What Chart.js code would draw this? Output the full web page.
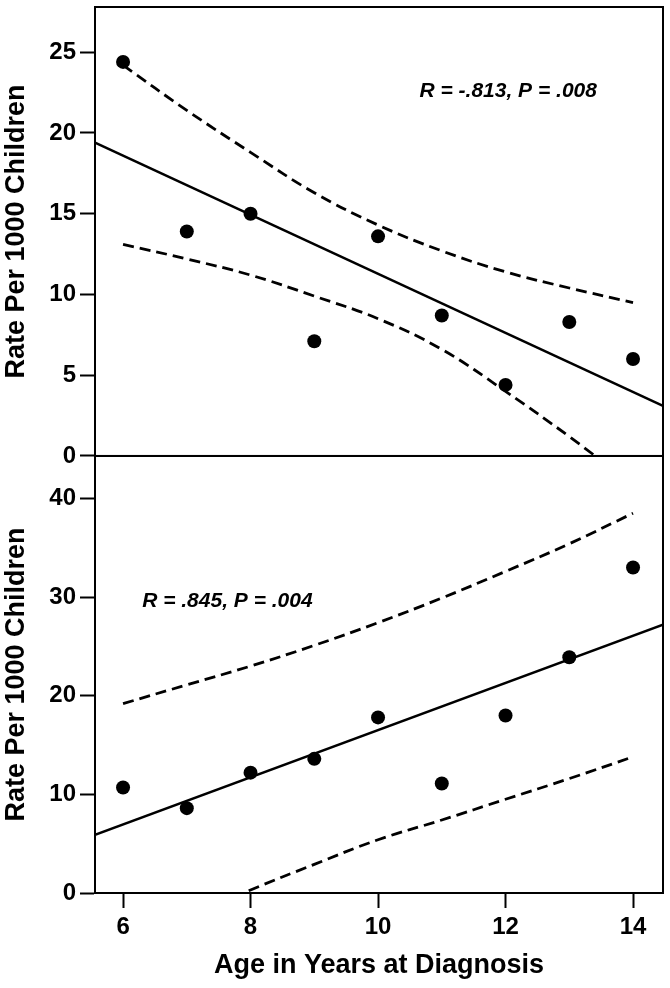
<!DOCTYPE html>
<html>
<head>
<meta charset="utf-8">
<script src="https://cdn.jsdelivr.net/npm/chart.js@4.4.1/dist/chart.umd.min.js"></script>
<style>
  html, body { margin: 0; padding: 0; background: #fff; }
  #wrap { position: relative; width: 670px; height: 988px; }
</style>
</head>
<body>
<div id="wrap"><canvas id="myChart"></canvas></div>
<script>
// age in years at diagnosis
var ages = [6, 7, 8, 9, 10, 11, 12, 13, 14];

// top panel
var rateTop = [24.4, 13.9, 15.0, 7.1, 13.6, 8.7, 4.4, 8.3, 6.0];
var fitTopAges = [5.56, 14.47];
var fitTop = [19.4, 3.1];
var upperTop = [24.2, 21.4, 18.8, 16.3, 14.3, 12.7, 11.4, 10.4, 9.5];
var lowerTop = [13.1, 12.2, 11.2, 9.9, 8.5, 6.6, 4.0, 1.2, -1.8];

// bottom panel
var rateBottom = [10.7, 8.6, 12.2, 13.6, 17.8, 11.1, 18.0, 23.9, 33.0];
var fitBottomAges = [5.56, 14.47];
var fitBottom = [5.9, 27.2];
var upperBottom = [19.2, 21.1, 23.0, 25.1, 27.4, 29.9, 32.6, 35.4, 38.5];
var lowerBottom = [null, -2.6, 0.3, 2.9, 5.4, 7.4, 9.5, 11.6, 13.8];

var xTicks = [6, 8, 10, 12, 14];
var yTicksTop = [0, 5, 10, 15, 20, 25];
var yTicksBottom = [0, 10, 20, 30, 40];

function pts(xs, ys) {
  return xs.map(function(x, i) { return { x: x, y: ys[i] }; });
}

var FONT = "'Liberation Sans', Arial, sans-serif";

function dots(data, axis) {
  return { data: data, yAxisID: axis, showLine: false, pointRadius: 7, pointHoverRadius: 7,
           backgroundColor: '#000', borderColor: '#000', borderWidth: 0 };
}
function fitLine(data, axis) {
  return { data: data, yAxisID: axis, showLine: true, pointRadius: 0, borderColor: '#000',
           borderWidth: 2.5, backgroundColor: '#000' };
}
function ciLine(data, axis) {
  return { data: data, yAxisID: axis, showLine: true, pointRadius: 0, borderColor: '#000',
           borderWidth: 2.8, borderDash: [11, 6], tension: 0.4,
           backgroundColor: '#000' };
}

// keep each panel's lines inside its own box
var panelClip = {
  id: 'panelClip',
  beforeDatasetDraw: function(chart, args) {
    var ys = chart.scales[args.meta.yAxisID];
    var ctx = chart.ctx;
    ctx.save();
    ctx.beginPath();
    ctx.rect(chart.chartArea.left, ys.top, chart.chartArea.right - chart.chartArea.left, ys.bottom - ys.top);
    ctx.clip();
  },
  afterDatasetDraw: function(chart) {
    chart.ctx.restore();
  }
};

// frame around each panel + the R/P notes
var frames = {
  id: 'frames',
  afterDraw: function(chart, args, opts) {
    var ctx = chart.ctx;
    var a = chart.chartArea;
    ctx.save();
    ctx.strokeStyle = '#000';
    ctx.lineWidth = 2;
    ['yTop', 'yBottom'].forEach(function(id) {
      var s = chart.scales[id];
      ctx.strokeRect(a.left, s.top, a.right - a.left, s.bottom - s.top);
    });
    ctx.fillStyle = '#000';
    ctx.font = 'italic bold 21px ' + FONT;
    ctx.textBaseline = 'middle';
    ctx.textAlign = 'left';
    opts.notes.forEach(function(n) {
      ctx.fillText(n.text, chart.scales.x.getPixelForValue(n.x), chart.scales[n.axis].getPixelForValue(n.y));
    });
    ctx.restore();
  }
};

function yAxis(ticksArr, max, weight) {
  return {
    type: 'linear',
    position: 'left',
    stack: 'panels',
    stackWeight: weight,
    min: 0,
    max: max,
    afterBuildTicks: function(axis) {
      axis.ticks = ticksArr.map(function(v) { return { value: v }; });
    },
    afterFit: function(axis) {
      axis.width = 95;
      axis.paddingTop = 0;
      axis.paddingBottom = 0;
    },
    border: { display: true, color: '#000', width: 2 },
    grid: { display: true, drawOnChartArea: false, drawTicks: true, tickLength: 15, tickWidth: 2, tickColor: '#000' },
    ticks: { color: '#000', padding: 4, font: { family: FONT, size: 24, weight: 'bold' } },
    title: { display: true, text: 'Rate Per 1000 Children', color: '#000', padding: 0,
             font: { family: FONT, size: 27, weight: 'bold' } }
  };
}

var ctx = document.getElementById('myChart').getContext('2d');
var chart = new Chart(ctx, {
  type: 'scatter',
  data: {
    datasets: [
      dots(pts(ages, rateTop), 'yTop'),
      fitLine(pts(fitTopAges, fitTop), 'yTop'),
      ciLine(pts(ages, upperTop), 'yTop'),
      ciLine(pts(ages, lowerTop), 'yTop'),
      dots(pts(ages, rateBottom), 'yBottom'),
      fitLine(pts(fitBottomAges, fitBottom), 'yBottom'),
      ciLine(pts(ages, upperBottom), 'yBottom'),
      ciLine(pts(ages, lowerBottom), 'yBottom')
    ]
  },
  options: {
    responsive: true,
    maintainAspectRatio: false,
    animation: false,
    layout: { padding: { left: 0, right: 3, top: 3, bottom: 0 } },
    plugins: {
      legend: { display: false },
      tooltip: { enabled: false },
      frames: {
        notes: [
          { text: 'R = -.813, P = .008', axis: 'yTop', x: 10.65, y: 22.6 },
          { text: 'R = .845, P = .004', axis: 'yBottom', x: 6.3, y: 29.6 }
        ]
      }
    },
    scales: {
      x: {
        type: 'linear',
        position: 'bottom',
        min: 5.56,
        max: 14.47,
        afterBuildTicks: function(axis) {
          axis.ticks = xTicks.map(function(v) { return { value: v }; });
        },
        afterFit: function(axis) {
          axis.height = 95;
          axis.paddingLeft = 0;
          axis.paddingRight = 0;
        },
        border: { display: true, color: '#000', width: 2 },
        grid: { display: true, drawOnChartArea: false, drawTicks: true, tickLength: 15, tickWidth: 2, tickColor: '#000' },
        ticks: { color: '#000', padding: 5, maxRotation: 0, font: { family: FONT, size: 24, weight: 'bold' } },
        title: { display: true, text: 'Age in Years at Diagnosis', color: '#000', padding: { top: 4, bottom: 6 },
                 font: { family: FONT, size: 27, weight: 'bold' } }
      },
      yBottom: yAxis(yTicksBottom, 44.3, 439),
      yTop: yAxis(yTicksTop, 27.8, 451)
    }
  },
  plugins: [panelClip, frames]
});
</script>
</body>
</html>
